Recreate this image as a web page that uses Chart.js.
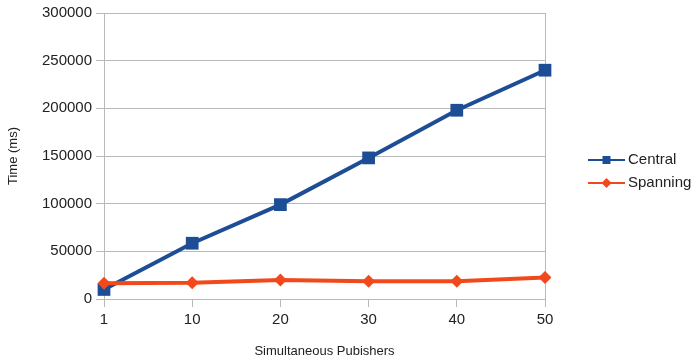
<!DOCTYPE html>
<html>
<head>
  <title>Central vs Spanning</title>
  <script src="https://cdn.jsdelivr.net/npm/chart.js"></script>
  <style>
    html, body { margin: 0; padding: 0; background: #ffffff; }
  </style>
</head>
<body>
  <canvas id="lineChart" width="696" height="363"></canvas>

  <script>
    // data
    const publishers = ['1', '10', '20', '30', '40', '50'];
    const centralTimes = [10000, 58500, 99000, 148000, 198000, 240000];
    const spanningTimes = [16500, 17000, 20000, 18500, 18500, 22500];
    const yTicks = [0, 50000, 100000, 150000, 200000, 250000, 300000];

    const blue = '#1d4d95';
    const orange = '#f2491c';
    const gridGray = '#b9b9b9';
    const font = "'Liberation Sans', Arial, sans-serif";

    // hand-drawn legend on the right, line + marker like the office chart
    const sideLegend = {
      id: 'sideLegend',
      afterDraw(chart) {
        const ctx = chart.ctx;
        const x0 = 588, x1 = 625, rowY = [160, 183];
        chart.data.datasets.forEach((ds, i) => {
          const y = rowY[i];
          ctx.save();
          ctx.strokeStyle = ds.borderColor;
          ctx.lineWidth = 2;
          ctx.beginPath();
          ctx.moveTo(x0, y);
          ctx.lineTo(x1, y);
          ctx.stroke();
          ctx.fillStyle = ds.borderColor;
          const mx = (x0 + x1) / 2;
          if (ds.pointStyle === 'rect') {
            ctx.fillRect(mx - 4, y - 4, 8, 8);
          } else {
            ctx.beginPath();
            ctx.moveTo(mx, y - 5);
            ctx.lineTo(mx + 5, y);
            ctx.lineTo(mx, y + 5);
            ctx.lineTo(mx - 5, y);
            ctx.closePath();
            ctx.fill();
          }
          ctx.fillStyle = '#222222';
          ctx.font = '15px ' + font;
          ctx.textBaseline = 'middle';
          ctx.textAlign = 'left';
          ctx.fillText(ds.label, x1 + 3, y);
          ctx.restore();
        });
      }
    };

    const ctx = document.getElementById('lineChart').getContext('2d');
    new Chart(ctx, {
      type: 'line',
      data: {
        labels: publishers,
        datasets: [{
          label: 'Central',
          data: centralTimes,
          borderColor: blue,
          backgroundColor: blue,
          borderWidth: 4,
          pointStyle: 'rect',
          pointRadius: 9,
          pointBorderWidth: 0,
          tension: 0,
          order: 2
        }, {
          label: 'Spanning',
          data: spanningTimes,
          borderColor: orange,
          backgroundColor: orange,
          borderWidth: 4,
          pointStyle: 'rectRot',
          pointRadius: 6.5,
          pointBorderWidth: 0,
          tension: 0,
          order: 1
        }]
      },
      options: {
        responsive: false,
        animation: false,
        maintainAspectRatio: false,
        layout: { padding: { left: 4, right: 151, top: 13, bottom: 0 } },
        plugins: {
          legend: { display: false },
          tooltip: { enabled: false }
        },
        scales: {
          x: {
            offset: false,
            grid: {
              color: c => (c.index === 0 || c.index === publishers.length - 1) ? gridGray : 'rgba(0,0,0,0)',
              tickColor: gridGray,
              tickLength: 8,
              lineWidth: 1
            },
            border: { display: false },
            ticks: { color: '#222222', font: { family: font, size: 15 }, padding: 4, maxRotation: 0, autoSkip: false },
            title: {
              display: true,
              text: 'Simultaneous Pubishers',
              color: '#222222',
              font: { family: font, size: 13 },
              padding: { top: 0, bottom: 4 }
            },
            afterFit: s => { s.height = 64; }
          },
          y: {
            min: 0,
            max: 300000,
            afterBuildTicks: s => { s.ticks = yTicks.map(v => ({ value: v })); },
            grid: { color: gridGray, tickColor: gridGray, tickLength: 8, lineWidth: 1 },
            border: { display: false },
            ticks: {
              color: '#222222',
              font: { family: font, size: 15 },
              padding: 4,
              autoSkip: false,
              callback: v => String(v)
            },
            title: {
              display: true,
              text: 'Time (ms)',
              color: '#222222',
              font: { family: font, size: 13 },
              padding: { top: 2, bottom: 0 }
            },
            afterFit: s => { s.width = 100; }
          }
        }
      },
      plugins: [sideLegend]
    });
  </script>
</body>
</html>
